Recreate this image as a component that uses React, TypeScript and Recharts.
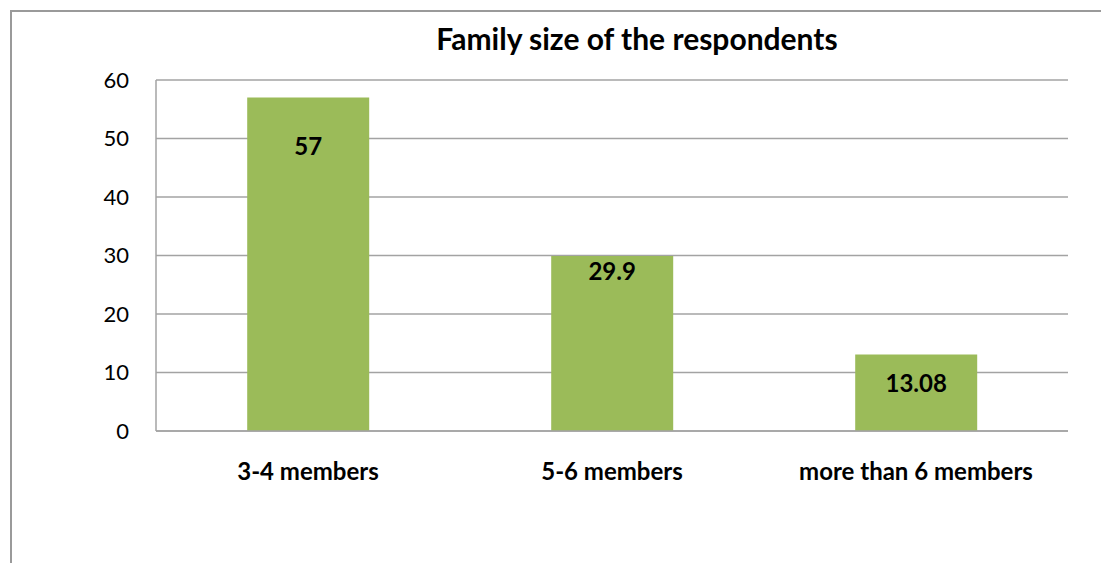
import { BarChart, Bar, XAxis, YAxis, CartesianGrid, LabelList } from 'recharts';

const categories = ['3-4 members', '5-6 members', 'more than 6 members'];
const shares = [57, 29.9, 13.08];
const yTicks = [0, 10, 20, 30, 40, 50, 60];

// Excel put each value label at its own depth inside the bar
const labelDrop = [48, 14, 28];

const data = categories.map((name, i) => ({ name, value: shares[i] }));

const FONT = 'Lato, "Open Sans", sans-serif';
const GRID = '#a3a3a3';

function ValueLabel(props: any) {
  const { x, y, width, index, value } = props;
  return (
    <text
      x={x + width / 2}
      y={y + labelDrop[index]}
      textAnchor="middle"
      dominantBaseline="central"
      fontFamily={FONT}
      fontWeight={700}
      fontSize={24}
      fill="#000"
    >
      {value}
    </text>
  );
}

export default function App() {
  return (
    <div style={{ position: 'absolute', left: 0, top: 0, width: 1101, height: 563, background: '#fff', overflow: 'hidden' }}>
      <div
        style={{
          position: 'absolute',
          left: 10,
          top: 10,
          width: 1200,
          height: 700,
          borderLeft: '2px solid #9a9a9a',
          borderTop: '2px solid #9a9a9a',
        }}
      />
      <div
        style={{
          position: 'absolute',
          left: 637 - 300,
          top: 20,
          width: 600,
          textAlign: 'center',
          fontFamily: FONT,
          fontWeight: 700,
          fontSize: 30,
          lineHeight: '36px',
          color: '#000',
        }}
      >
        Family size of the respondents
      </div>
      <div style={{ position: 'absolute', left: 0, top: 0 }}>
        <BarChart
          width={1101}
          height={563}
          data={data}
          margin={{ top: 80, right: 33, bottom: 72, left: 96 }}
          barCategoryGap="30%"
        >
          <CartesianGrid vertical={false} stroke={GRID} strokeWidth={1.5} />
          <XAxis
            dataKey="name"
            height={60}
            axisLine={{ stroke: GRID, strokeWidth: 1.5 }}
            tickLine={false}
            tick={{ fill: '#000', fontSize: 24, fontWeight: 700, fontFamily: FONT }}
            tickMargin={26}
            interval={0}
          />
          <YAxis
            domain={[0, 60]}
            ticks={yTicks}
            width={60}
            axisLine={{ stroke: GRID, strokeWidth: 1.5 }}
            tickLine={false}
            tick={{ fill: '#000', fontSize: 22, fontFamily: FONT }}
            tickMargin={21}
          />
          <Bar dataKey="value" fill="#9bbb59" isAnimationActive={false}>
            <LabelList dataKey="value" content={<ValueLabel />} />
          </Bar>
        </BarChart>
      </div>
    </div>
  );
}
